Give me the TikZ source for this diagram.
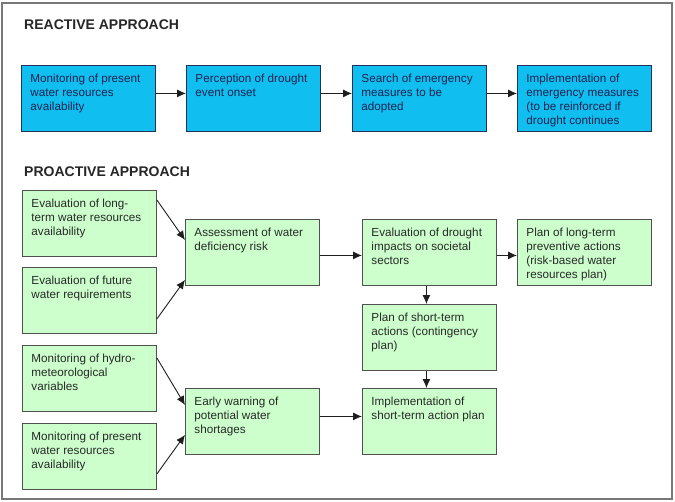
\documentclass[tikz,border=0pt]{standalone}
\usepackage{fontspec}
\setmainfont{Liberation Sans}
\usetikzlibrary{arrows.meta}
\definecolor{bluefill}{RGB}{16,190,240}
\definecolor{blueline}{RGB}{30,50,90}
\definecolor{bluetext}{RGB}{25,35,80}
\definecolor{greenfill}{RGB}{204,255,204}
\definecolor{greenline}{RGB}{80,80,80}
\definecolor{greentext}{RGB}{40,40,40}
\definecolor{framecol}{RGB}{120,120,120}
\definecolor{arrowcol}{RGB}{30,30,30}
\newcommand{\boxtext}[1]{\parbox[c][66pt][t]{134pt}{\fontsize{11.7}{14}\selectfont\raggedright\leftskip=9pt\vspace*{8.5pt}#1}}
\tikzset{
  basebox/.style={draw, line width=0.9pt, inner sep=0pt, minimum width=134pt, minimum height=66pt, anchor=north west},
  bluebox/.style={basebox, fill=bluefill, draw=blueline, text=bluetext},
  greenbox/.style={basebox, fill=greenfill, draw=greenline, text=greentext},
  heading/.style={anchor=base west, inner sep=0pt, font=\bfseries\fontsize{14}{16}\selectfont, text=black!85},
  conn/.style={draw=arrowcol, line width=0.9pt, -{Latex[length=9pt,width=8pt]}}
}
\begin{document}
\begin{tikzpicture}[x=1pt,y=-1pt]
\useasboundingbox (0,0) rectangle (675,501);
\fill[white] (0,0) rectangle (675,501);
\draw[framecol, line width=1.5pt] (2,3) rectangle (672,499);

\node[heading] (h1) at (24,29) {REACTIVE APPROACH};
\node[heading] (h2) at (24,176) {PROACTIVE APPROACH};

% reactive
\node[bluebox] (b1) at (21,65) {\boxtext{Monitoring of present\\water resources\\availability}};
\node[bluebox] (b2) at (186,65) {\boxtext{Perception of drought\\event onset}};
\node[bluebox] (b3) at (352,65) {\boxtext{Search of emergency\\measures to be\\adopted}};
\node[bluebox] (b4) at (517,65) {\boxtext{Implementation of\\emergency measures\\(to be reinforced if\\drought continues}};

\draw[conn] ([yshift=5pt]b1.east) -- ([yshift=5pt]b2.west);
\draw[conn] ([yshift=5pt]b2.east) -- ([yshift=5pt]b3.west);
\draw[conn] ([yshift=5pt]b3.east) -- ([yshift=5pt]b4.west);

% proactive
\node[greenbox] (g1) at (22,190) {\boxtext{Evaluation of long-\\term water resources\\availability}};
\node[greenbox] (g2) at (22,267) {\boxtext{Evaluation of future\\water requirements}};
\node[greenbox] (a) at (185,219) {\boxtext{Assessment of water\\deficiency risk}};
\node[greenbox] (e) at (362,219) {\boxtext{Evaluation of drought\\impacts on societal\\sectors}};
\node[greenbox] (p) at (517,219) {\boxtext{Plan of long-term\\preventive actions\\(risk-based water\\resources plan)}};
\node[greenbox] (s) at (362,304) {\boxtext{Plan of short-term\\actions (contingency\\plan)}};
\node[greenbox] (i) at (362,388) {\boxtext{Implementation of\\short-term action plan}};
\node[greenbox] (m1) at (22,345) {\boxtext{Monitoring of hydro-\\meteorological\\variables}};
\node[greenbox] (m2) at (22,423) {\boxtext{Monitoring of present\\water resources\\availability}};
\node[greenbox] (w) at (185,388) {\boxtext{Early warning of\\potential water\\shortages}};

\draw[conn] ([yshift=-10pt]g1.north east) -- ([yshift=-21pt]a.north west);
\draw[conn] ([yshift=15pt]g2.south east) -- ([yshift=6pt]a.south west);
\draw[conn] ([yshift=-3pt]a.east) -- ([yshift=-3pt]e.west);
\draw[conn] ([yshift=-3pt]e.east) -- ([yshift=-3pt]p.west);
\draw[conn] ([xshift=-3pt]e.south) -- ([xshift=-3pt]s.north);
\draw[conn] ([xshift=-3pt]s.south) -- ([xshift=-3pt]i.north);
\draw[conn] ([yshift=-13pt]m1.north east) -- ([yshift=-17pt]w.north west);
\draw[conn] ([yshift=16pt]m2.south east) -- ([yshift=20pt]w.south west);
\draw[conn] ([yshift=5pt]w.east) -- ([yshift=5pt]i.west);
\end{tikzpicture}
\end{document}
